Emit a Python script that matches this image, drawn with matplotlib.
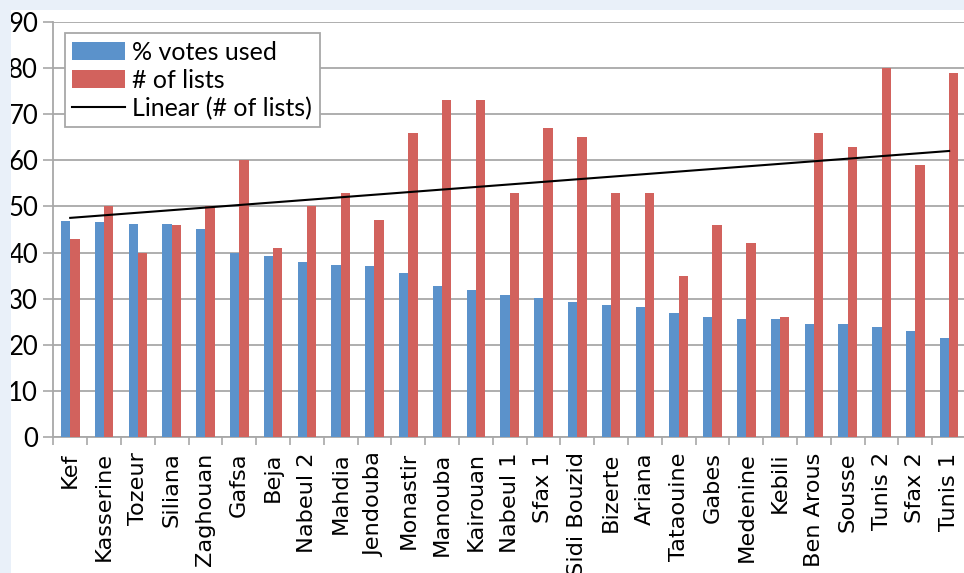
import matplotlib.pyplot as plt
import numpy as np
from matplotlib.patches import Rectangle

# vote share used and number of candidate lists per constituency
districts = ['Kef', 'Kasserine', 'Tozeur', 'Siliana', 'Zaghouan', 'Gafsa', 'Beja',
             'Nabeul 2', 'Mahdia', 'Jendouba', 'Monastir', 'Manouba', 'Kairouan',
             'Nabeul 1', 'Sfax 1', 'Sidi Bouzid', 'Bizerte', 'Ariana', 'Tataouine',
             'Gabes', 'Medenine', 'Kebili', 'Ben Arous', 'Sousse', 'Tunis 2',
             'Sfax 2', 'Tunis 1']
votes_used = [46.9, 46.6, 46.2, 46.1, 45.1, 40.0, 39.3, 38.0, 37.4, 37.0, 35.6,
              32.7, 31.8, 30.8, 30.2, 29.3, 28.6, 28.3, 26.9, 26.0, 25.7, 25.5,
              24.6, 24.6, 23.9, 22.9, 21.5]
num_lists = [43, 50, 40, 46, 50, 60, 41, 50, 53, 47, 66, 73, 73, 53, 67, 65, 53,
             53, 35, 46, 42, 26, 66, 63, 80, 59, 79]
yticks = list(range(0, 91, 10))

blue = '#5b92cb'
red = '#d2625d'
grid_grey = '#a8a8a8'

fig = plt.figure(figsize=(9.64, 5.73), dpi=100)
fig.patch.set_facecolor('white')
# pale blue frame strips along the top and left edge
fig.patches.append(Rectangle((0, 1 - 10 / 573), 1, 10 / 573, transform=fig.transFigure,
                             facecolor='#e9f0f9', edgecolor='none', zorder=0))
fig.patches.append(Rectangle((0, 0), 11 / 964, 1, transform=fig.transFigure,
                             facecolor='#e9f0f9', edgecolor='none', zorder=0))

ax = fig.add_axes([0.0553, 0.2373, 0.9468, 0.7243])

x = np.arange(len(districts))
w = 0.275
b1 = ax.bar(x - w / 2, votes_used, w, color=blue, zorder=3)
b2 = ax.bar(x + w / 2, num_lists, w, color=red, zorder=3)

# linear trend of the list counts
k, b = np.polyfit(x, num_lists, 1)
ln, = ax.plot([x[0], x[-1]], [k * x[0] + b, k * x[-1] + b], color='black', lw=1.5,
              zorder=4)

ax.set_xlim(-0.5, len(districts) - 0.5)
ax.set_ylim(0, 90)
ax.set_yticks(yticks)
ax.set_yticklabels([str(t) for t in yticks], fontfamily='Lato', fontsize=18.5)
ax.yaxis.grid(True, color=grid_grey, lw=1.3, zorder=0)
ax.set_axisbelow(True)

ax.set_xticks(x)
ax.set_xticklabels(districts, rotation=90, fontfamily='DejaVu Sans', fontsize=16.2)
ax.set_xticks(np.arange(-0.5, len(districts)), minor=True)
ax.tick_params(axis='x', which='major', length=0, pad=11)
ax.tick_params(axis='x', which='minor', length=6, width=1.2, color=grid_grey)
ax.tick_params(axis='y', length=7, width=1.2, color=grid_grey, pad=4)

for s in ['top', 'right']:
    ax.spines[s].set_visible(False)
for s in ['left', 'bottom']:
    ax.spines[s].set_color(grid_grey)
    ax.spines[s].set_linewidth(1.3)

leg = ax.legend([b1, b2, ln], ['% votes used', '# of lists', 'Linear (# of lists)'],
                loc='upper left', bbox_to_anchor=(0.0128, 0.9735), borderaxespad=0,
                prop={'family': 'Lato', 'size': 18}, frameon=True, fancybox=False,
                edgecolor=grid_grey, framealpha=1, handlelength=2.1, handletextpad=0.3,
                labelspacing=0.2, borderpad=0.3)
leg.get_frame().set_linewidth(1.3)

fig.savefig('out.png', dpi=100)
